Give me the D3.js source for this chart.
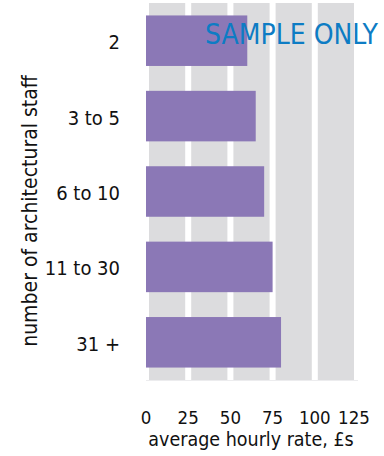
<!DOCTYPE html>
<html>
<head>
<meta charset="utf-8">
<script src="https://cdn.jsdelivr.net/npm/d3@7"></script>
<style>
  html, body { margin: 0; padding: 0; background: #fff; }
  svg { display: block; font-family: "DejaVu Sans Condensed", "DejaVu Sans", sans-serif; }
</style>
</head>
<body>
<svg id="chart" width="384" height="456"></svg>
<script>
// Average hourly rate by practice size
const categories = ["2", "3 to 5", "6 to 10", "11 to 30", "31 +"];
const rates = [60, 65, 70, 75, 80];
const xTicks = [0, 25, 50, 75, 100, 125];

const svg = d3.select("#chart");
const margin = { top: 3, right: 27, bottom: 76, left: 146 };
const W = 384, H = 456;
const innerW = W - margin.left - margin.right;
const innerH = H - margin.top - margin.bottom;

const x = d3.scaleLinear().domain([0, 125]).range([0, innerW]);
const y = d3.scaleBand().domain(categories).range([0, innerH]).paddingInner(0.33).paddingOuter(0.165);
const yBand = d3.scaleBand().domain(categories).range([0, innerH]);

const g = svg.append("g").attr("transform", `translate(${margin.left},${margin.top})`);

// grey columns between gridlines
const colGap = 6;
g.selectAll("rect.col")
  .data(d3.pairs(xTicks))
  .join("rect")
  .attr("class", "col")
  .attr("x", d => x(d[0]) + colGap / 2)
  .attr("width", d => x(d[1]) - x(d[0]) - colGap)
  .attr("y", 0)
  .attr("height", innerH)
  .attr("fill", "#dcdcde");

// faint baseline
g.append("line")
  .attr("x1", 0).attr("x2", innerW + 1)
  .attr("y1", innerH + 0.5).attr("y2", innerH + 0.5)
  .attr("stroke", "#ececee").attr("stroke-width", 1);

// bars
g.selectAll("rect.bar")
  .data(categories.map((c, i) => ({ c, v: rates[i] })))
  .join("rect")
  .attr("class", "bar")
  .attr("x", 0)
  .attr("y", d => y(d.c))
  .attr("width", d => x(d.v))
  .attr("height", y.bandwidth())
  .attr("fill", "#8b78b6");

// category labels
g.selectAll("text.cat")
  .data(categories)
  .join("text")
  .attr("class", "cat")
  .attr("x", -26)
  .attr("y", d => yBand(d) + yBand.bandwidth() / 2 + 8.5)
  .attr("text-anchor", "end")
  .attr("font-size", 20)
  .attr("fill", "#111")
  .text(d => d);

// x tick labels
g.selectAll("text.tick")
  .data(xTicks)
  .join("text")
  .attr("class", "tick")
  .attr("x", d => x(d) - (d === 125 ? 3 : 0))
  .attr("y", 424 - margin.top)
  .attr("text-anchor", "middle")
  .attr("font-size", 18.5)
  .attr("fill", "#111")
  .text(d => d);

// axis titles
svg.append("text")
  .attr("x", 251)
  .attr("y", 446)
  .attr("text-anchor", "middle")
  .attr("font-size", 19.5)
  .attr("fill", "#111")
  .text("average hourly rate, £s");

svg.append("text")
  .attr("transform", "translate(37,211) rotate(-90)")
  .attr("text-anchor", "middle")
  .attr("font-size", 21)
  .attr("fill", "#111")
  .text("number of architectural staff");

// watermark
svg.append("text")
  .attr("x", 378)
  .attr("y", 44)
  .attr("text-anchor", "end")
  .attr("font-size", 28)
  .attr("fill", "#0d7cc4")
  .text("SAMPLE ONLY");
</script>
</body>
</html>
